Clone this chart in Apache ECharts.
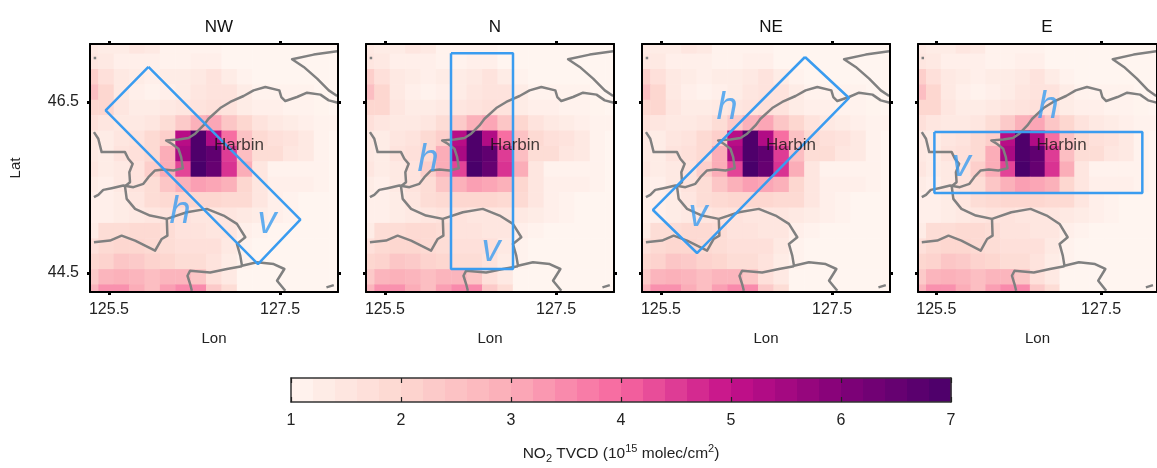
<!DOCTYPE html>
<html><head><meta charset="utf-8">
<style>html,body{margin:0;padding:0;background:#fff;overflow:hidden}#c{width:1157px;height:468px}</style>
<script src="https://cdn.jsdelivr.net/npm/echarts@6/dist/echarts.min.js"></script>
</head><body><div id="c"></div>
<script>
const panelNames = ['NW','N','NE','E'];
const lonCenters = [125.285,125.465,125.645,125.825,126.005,126.185,126.365,126.545,126.725,126.905,127.085,127.265,127.445,127.625,127.805,127.985,128.165];
const latCenters = [47.156,46.976,46.796,46.616,46.436,46.256,46.076,45.896,45.716,45.536,45.356,45.176,44.996,44.816,44.636,44.456,44.276];
const cellSize = 0.18;
const no2 = [
[1.4,1.3,1.3,1.5,1.4,1.1,1.1,1.1,1.1,1.0,1.0,1.0,1.0,1.0,1.0,1.0,1.0],
[1.5,1.4,1.2,1.2,1.2,1.1,1.1,1.2,1.2,1.0,1.0,1.0,1.0,1.0,1.0,1.0,1.0],
[2.2,1.7,1.4,1.3,1.2,1.3,1.3,1.4,1.6,1.3,1.1,1.0,1.0,1.0,1.0,1.0,1.0],
[2.6,2.0,1.4,1.2,1.1,1.2,1.3,1.5,1.6,1.6,1.3,1.1,1.1,1.1,1.1,1.0,1.0],
[2.0,2.0,1.5,1.3,1.3,1.4,1.5,1.6,1.7,1.6,1.3,1.2,1.2,1.1,1.1,1.05,1.0],
[1.7,1.5,1.4,1.4,1.5,1.8,2.3,2.9,3.1,2.4,2.0,1.6,1.4,1.3,1.2,1.1,1.1],
[1.4,1.3,1.5,1.6,1.9,2.2,5.2,6.9,5.3,3.9,2.5,1.9,1.7,1.6,1.4,1.1,1.0],
[1.4,1.3,1.6,1.7,1.9,3.0,5.4,6.9,6.6,4.5,2.6,1.8,1.8,1.5,1.4,1.1,1.0],
[1.5,1.3,1.4,1.6,2.2,3.0,4.4,7.0,6.5,4.6,3.0,1.5,1.1,1.1,1.1,1.1,1.0],
[1.3,1.2,1.4,1.6,1.8,2.4,2.9,3.2,3.1,2.9,2.0,1.5,1.2,1.2,1.2,1.1,1.0],
[1.2,1.2,1.3,1.5,1.8,1.9,2.0,2.0,2.0,1.9,1.9,1.5,1.2,1.1,1.0,1.0,1.0],
[1.2,1.2,1.3,1.4,1.5,1.6,1.6,1.5,1.5,1.5,1.4,1.3,1.2,1.1,1.0,1.0,1.0],
[1.3,1.8,1.8,1.9,1.9,1.8,1.6,1.6,1.5,1.5,1.2,1.1,1.0,1.0,1.0,1.0,1.0],
[1.7,1.9,2.0,2.0,1.9,1.8,1.7,1.7,1.7,1.4,1.1,1.0,1.0,1.0,1.0,1.0,1.0],
[2.0,2.1,2.4,2.3,2.1,2.0,1.8,1.8,1.6,1.3,1.1,1.0,1.0,1.0,1.0,1.0,1.0],
[2.3,2.8,2.9,2.8,2.6,2.8,2.8,2.4,1.7,1.4,1.0,1.0,1.0,1.0,1.0,1.0,1.0],
[2.8,3.4,3.4,3.0,2.6,3.2,3.5,3.5,2.3,1.8,1.0,1.0,1.0,1.0,1.0,1.0,1.0]
];
const borderRiver = [[128.187,46.488],[128.07,46.519],[127.973,46.586],[127.816,46.609],[127.699,46.558],[127.562,46.511],[127.515,46.558],[127.492,46.636],[127.328,46.676],[127.191,46.636],[127.074,46.57],[126.918,46.5],[126.801,46.429],[126.664,46.304],[126.605,46.226],[126.508,46.129],[126.43,46.078],[126.312,46.062],[126.168,46.051],[126.234,46.011],[126.312,45.953],[126.344,45.855],[126.363,45.726],[126.254,45.699],[126.137,45.711],[126.039,45.699],[125.961,45.621],[125.902,45.543],[125.785,45.504],[125.668,45.523],[125.531,45.492],[125.433,45.472],[125.375,45.414],[125.324,45.387]];
const borderSouth = [[125.324,46.148],[125.375,46.07],[125.414,45.914],[125.687,45.914],[125.726,45.836],[125.777,45.777],[125.738,45.679],[125.746,45.562],[125.687,45.515],[125.707,45.367],[125.805,45.25],[125.98,45.172],[126.176,45.133],[126.41,45.211],[126.644,45.25],[126.84,45.172],[126.996,45.074],[127.094,44.918],[126.996,44.84],[127.035,44.703],[127.055,44.586],[127.23,44.625],[127.426,44.605],[127.551,44.547],[127.465,44.41],[127.562,44.293]];
const borderWest = [[126.176,45.133],[126.183,44.937],[126.117,44.898],[126.039,44.761],[125.922,44.82],[125.805,44.879],[125.648,44.937],[125.512,44.879],[125.324,44.859]];
const borderBottom = [[127.055,44.578],[126.879,44.547],[126.683,44.507],[126.449,44.527],[126.418,44.468],[126.449,44.371],[126.469,44.293]];
const borderNorth = [[128.168,47.093],[127.894,47.054],[127.641,47.0],[127.777,46.91],[127.934,46.773],[128.07,46.636],[128.168,46.57]];
const borderCorner = [[128.043,44.332],[128.129,44.359]];
const borderSpot = [[125.336,47.03],[125.336,47.0]];
const borders = [borderRiver,borderSouth,borderWest,borderBottom,borderNorth,borderCorner,borderSpot];
const boxNW = [[125.961,46.91],[127.738,45.125],[127.242,44.605],[125.461,46.402],[125.961,46.91]];
const boxN = [[126.272,47.07],[126.997,47.07],[126.997,44.547],[126.272,44.547],[126.272,47.07]];
const boxNE = [[127.184,47.026],[127.699,46.547],[125.921,44.734],[125.406,45.237],[127.184,47.026]];
const boxE = [[125.477,46.149],[128.0,46.149],[128.0,45.436],[125.477,45.436],[125.477,46.149]];
const boxes = [boxNW,boxN,boxNE,boxE];
const hMarks = [[126.33,45.213],[126.003,45.822],[126.272,46.43],[126.857,46.442]];
const vMarks = [[127.348,45.097],[126.74,44.769],[125.933,45.178],[125.804,45.763]];
const cityName = 'Harbin';
const cityPos = [127.02,45.997];
const lonTicks = [125.5,127.5];
const latTicks = [44.5,46.5];
const lonRange = [125.278,128.178];
const latRange = [44.278,47.178];
const barBandStarts = [1,1.2,1.4,1.6,1.8,2,2.2,2.4,2.6,2.8,3,3.2,3.4,3.6,3.8,4,4.2,4.4,4.6,4.8,5,5.2,5.4,5.6,5.8,6,6.2,6.4,6.6,6.8];
const barBandWidth = 0.2;
const barTicks = [1,2,3,4,5,6,7];
const rampColors = ['#fff5f0','#fdd7d0','#fbadb8','#f7679f','#c5108a','#820178','#49006a'];

const heatData = [];
no2.forEach((row,r)=>row.forEach((v,c)=>heatData.push([lonCenters[c],latCenters[r],v])));

const blue = '#3a9cf0';
const panelLeft = [90,366,642,918];
const grids=[],xAxes=[],yAxes=[],series=[],titles=[];
const frame = {lineStyle:{color:'#000',width:2}};
const tickCfg = vals => ({show:true,length:3,customValues:vals,lineStyle:{color:'#000',width:3}});
const labelFont = {fontFamily:'Liberation Sans',fontSize:16,color:'#222'};
function heatItem(params,api){
  const p0=api.coord([api.value(0)-cellSize/2,api.value(1)+cellSize/2]);
  const p1=api.coord([api.value(0)+cellSize/2,api.value(1)-cellSize/2]);
  const s=params.coordSys;
  const rect=echarts.graphic.clipRectByRect({x:p0[0],y:p0[1],width:p1[0]-p0[0]+0.5,height:p1[1]-p0[1]+0.5},{x:s.x,y:s.y,width:s.width,height:s.height});
  return rect&&{type:'rect',shape:rect,style:{fill:api.visual('color')}};
}
panelNames.forEach((name,i)=>{
  grids.push({left:panelLeft[i],top:44,width:248,height:248});
  titles.push({text:name,left:panelLeft[i]+124,top:14,textAlign:'center',textStyle:{fontFamily:'Liberation Sans',fontSize:17,fontWeight:'normal',color:'#111'}});
  xAxes.push({gridIndex:i,type:'value',position:'bottom',min:lonRange[0],max:lonRange[1],z:10,
    name:'Lon',nameLocation:'middle',nameGap:39,nameTextStyle:{...labelFont,fontSize:15},
    axisLine:{onZero:false,...frame},axisTick:tickCfg(lonTicks),splitLine:{show:false},
    axisLabel:{...labelFont,customValues:lonTicks,margin:10,formatter:v=>v.toFixed(1)}});
  xAxes.push({gridIndex:i,type:'value',position:'top',min:lonRange[0],max:lonRange[1],z:10,
    axisLine:{onZero:false,...frame},axisTick:tickCfg(lonTicks),splitLine:{show:false},axisLabel:{show:false}});
  yAxes.push({gridIndex:i,type:'value',position:'left',min:latRange[0],max:latRange[1],z:10,
    name:i===0?'Lat':'',nameLocation:'middle',nameGap:67,nameRotate:90,nameTextStyle:{...labelFont,fontSize:15},
    axisLine:{onZero:false,...frame},axisTick:tickCfg(latTicks),splitLine:{show:false},
    axisLabel:{...labelFont,show:i===0,customValues:latTicks,margin:11,formatter:v=>v.toFixed(1)}});
  yAxes.push({gridIndex:i,type:'value',position:'right',min:latRange[0],max:latRange[1],z:10,
    axisLine:{onZero:false,...frame},axisTick:tickCfg(latTicks),splitLine:{show:false},axisLabel:{show:false}});
  const ax={xAxisIndex:2*i,yAxisIndex:2*i};
  series.push({type:'custom',...ax,renderItem:heatItem,data:heatData,encode:{x:0,y:1},z:1,silent:true});
  borders.forEach(b=>series.push({type:'line',...ax,data:b,showSymbol:false,symbol:'none',z:3,silent:true,clip:true,lineStyle:{color:'#808080',width:2.5,join:'round'}}));
  series.push({type:'line',...ax,data:boxes[i],showSymbol:false,symbol:'none',z:4,silent:true,lineStyle:{color:blue,width:2.5}});
  const mark=(pos,text,label)=>series.push({type:'scatter',...ax,data:[pos],symbolSize:0,z:5,silent:true,
    label:{show:true,position:'inside',formatter:text,...label}});
  mark(hMarks[i],'h',{fontFamily:'Liberation Sans',fontStyle:'italic',fontSize:38,color:blue});
  mark(vMarks[i],'v',{fontFamily:'Liberation Sans',fontStyle:'italic',fontSize:38,color:blue});
  mark(cityPos,cityName,{fontFamily:'Liberation Sans',fontSize:17,color:'#111'});
});
// colour bar
const bi=panelNames.length;
grids.push({left:291,top:378,width:660,height:24});
xAxes.push({gridIndex:bi,type:'value',position:'bottom',min:1,max:7,interval:1,z:10,
  name:'{b|NO}{s|2}{b| TVCD (10}{u|15}{b| molec/cm}{u|2}{b|)}',nameLocation:'middle',nameGap:41,
  nameTextStyle:{rich:{b:{...labelFont,fontSize:15.5},s:{...labelFont,fontSize:11,padding:[10,0,0,0]},u:{...labelFont,fontSize:11,padding:[0,0,9,0]}}},
  axisLine:{onZero:false,lineStyle:{color:'#333',width:1.5}},axisTick:{inside:true,length:5,lineStyle:{color:'#222',width:1.2}},splitLine:{show:false},
  axisLabel:{...labelFont,margin:11}});
xAxes.push({gridIndex:bi,type:'value',position:'top',min:1,max:7,interval:1,z:10,
  axisLine:{onZero:false,lineStyle:{color:'#333',width:1.5}},axisTick:{inside:true,length:5,lineStyle:{color:'#222',width:1.2}},splitLine:{show:false},axisLabel:{show:false}});
yAxes.push({gridIndex:bi,type:'value',min:0,max:1,z:10,axisLine:{show:true,onZero:false,lineStyle:{color:'#333',width:1.5}},axisTick:{show:false},axisLabel:{show:false},splitLine:{show:false}});
yAxes.push({gridIndex:bi,type:'value',position:'right',min:0,max:1,z:10,axisLine:{show:true,onZero:false,lineStyle:{color:'#333',width:1.5}},axisTick:{show:false},axisLabel:{show:false},splitLine:{show:false}});
const barSeriesIndex=series.length;
series.push({type:'custom',xAxisIndex:2*bi,yAxisIndex:2*bi,silent:true,z:1,
  data:barBandStarts.map(s=>[s,s+barBandWidth,s+barBandWidth/2]),encode:{x:[0,1]},
  renderItem(params,api){
    const a=api.coord([api.value(0),1]),b=api.coord([api.value(1),0]);
    return {type:'rect',shape:{x:a[0],y:a[1],width:b[0]-a[0]+0.5,height:b[1]-a[1]},style:{fill:api.visual('color')}};
  }});
const heatIdx=series.map((s,k)=>s.type==='custom'?k:-1).filter(k=>k>=0);

echarts.init(document.getElementById('c'),null,{renderer:'canvas'}).setOption({
  animation:false,backgroundColor:'#fff',title:titles,grid:grids,xAxis:xAxes,yAxis:yAxes,series,
  visualMap:{show:false,type:'continuous',min:1,max:7,dimension:2,seriesIndex:heatIdx,inRange:{color:rampColors}}
});
</script></body></html>
